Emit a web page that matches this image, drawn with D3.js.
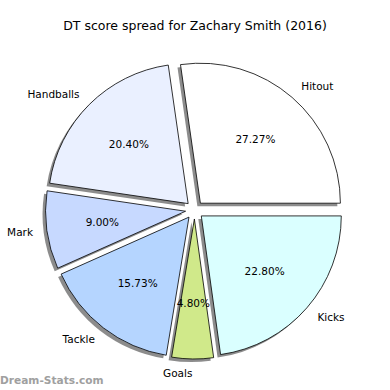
<!DOCTYPE html>
<html>
<head>
<meta charset="utf-8">
<script src="https://cdn.jsdelivr.net/npm/d3@7"></script>
<style>
  body { margin: 0; background: #fff; }
  svg { display: block; font-family: "DejaVu Sans", sans-serif; }
</style>
</head>
<body>
<svg id="chart" width="390" height="390"></svg>
<script>
// data (matplotlib order, counterclockwise from 3 o'clock)
var labels = ["Hitout", "Handballs", "Mark", "Tackle", "Goals", "Kicks"];
var shares = [27.27, 20.40, 9.00, 15.73, 4.80, 22.80];
var colors = ["#ffffff", "#eaf0ff", "#c7d9ff", "#b5d5ff", "#d0e98a", "#daffff"];
var title = "DT score spread for Zachary Smith (2016)";

var W = 390, H = 390;
var cx = 194.5, cy = 210, R = 140;
var explode = 9;      // px each wedge is pushed out
var shadowDx = -3, shadowDy = 3;

var svg = d3.select("#chart");

svg.append("text")
  .attr("x", W / 2).attr("y", 30)
  .attr("text-anchor", "middle")
  .style("font-size", "12.5px")
  .text(title);

// d3 angles: 0 = 12 o'clock, clockwise; matplotlib starts at 3 o'clock going ccw
var pie = d3.pie().sort(null)
  .startAngle(Math.PI / 2)
  .endAngle(Math.PI / 2 - 2 * Math.PI);

var arc = d3.arc().innerRadius(0).outerRadius(R);
var arcs = pie(shares);

arcs.forEach(function(a, i) {
  a.label = labels[i];
  a.color = colors[i];
  var mid = (a.startAngle + a.endAngle) / 2;
  a.sx = Math.sin(mid);
  a.sy = -Math.cos(mid);
  a.ox = cx + explode * a.sx;
  a.oy = cy + explode * a.sy;
});

var g = svg.append("g");

// shadows first
g.selectAll("path.shadow")
  .data(arcs)
  .enter().append("path")
  .attr("class", "shadow")
  .attr("d", arc)
  .attr("transform", function(d) { return "translate(" + (d.ox + shadowDx) + "," + (d.oy + shadowDy) + ")"; })
  .style("fill", "#000")
  .style("opacity", 0.45);

g.selectAll("path.wedge")
  .data(arcs)
  .enter().append("path")
  .attr("class", "wedge")
  .attr("d", arc)
  .attr("transform", function(d) { return "translate(" + d.ox + "," + d.oy + ")"; })
  .style("fill", function(d) { return d.color; })
  .style("stroke", "#000")
  .style("stroke-width", 0.8);

// outer labels at 1.1 R
g.selectAll("text.lbl")
  .data(arcs)
  .enter().append("text")
  .attr("class", "lbl")
  .attr("x", function(d) { return d.ox + 1.1 * R * d.sx; })
  .attr("y", function(d) { return d.oy + 1.1 * R * d.sy; })
  .attr("dy", "0.35em")
  .attr("text-anchor", function(d) { return d.sx > 0 ? "start" : "end"; })
  .style("font-size", "10.5px")
  .text(function(d) { return d.label; });

// percentages at 0.6 R
g.selectAll("text.pct")
  .data(arcs)
  .enter().append("text")
  .attr("class", "pct")
  .attr("x", function(d) { return d.ox + 0.6 * R * d.sx; })
  .attr("y", function(d) { return d.oy + 0.6 * R * d.sy; })
  .attr("dy", "0.35em")
  .attr("text-anchor", "middle")
  .style("font-size", "10.5px")
  .text(function(d) { return d3.format(".2f")(d.data) + "%"; });

// watermark
svg.append("text")
  .attr("x", 0).attr("y", 384)
  .style("font-size", "10.6px")
  .style("font-weight", "bold")
  .style("fill", "#a0a0a0")
  .text("Dream-Stats.com");
</script>
</body>
</html>
